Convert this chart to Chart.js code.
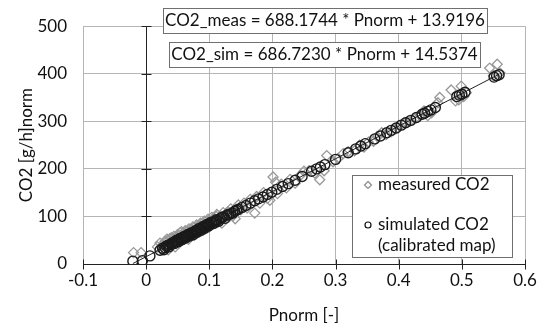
<!DOCTYPE html>
<html><head><meta charset="utf-8">
<script src="https://cdn.jsdelivr.net/npm/chart.js@4"></script>
<style>html,body{margin:0;padding:0;background:#fff}#wrap{width:544px;height:329px}</style>
</head><body><div id="wrap"><canvas id="c" width="544" height="329"></canvas></div>
<script>
const xTicks = [-0.1, 0, 0.1, 0.2, 0.3, 0.4, 0.5, 0.6];
const yTicks = [0, 100, 200, 300, 400, 500];
const eqMeas = "CO2_meas = 688.1744 * Pnorm + 13.9196";
const eqSim = "CO2_sim = 686.7230 * Pnorm + 14.5374";
const legendLabels = ["measured CO2", "simulated CO2", "(calibrated map)"];
const xTitle = "Pnorm [-]";
const yTitle = "CO2 [g/h]norm";

const simX = [-0.021,-0.006,0.006,0.022,0.026,0.028,0.030,0.032,0.034,0.036,0.037,0.040,0.041,0.043,0.045,0.046,0.048,0.049,0.051,0.052,0.054,0.055,0.057,0.058,0.060,0.061,0.063,0.064,0.066,0.067,0.069,0.070,0.072,0.073,0.075,0.076,0.078,0.079,0.081,0.082,0.084,0.085,0.087,0.088,0.090,0.091,0.093,0.094,0.096,0.097,0.099,0.100,0.103,0.104,0.107,0.108,0.111,0.112,0.115,0.117,0.120,0.122,0.125,0.128,0.131,0.134,0.137,0.140,0.143,0.146,0.152,0.158,0.165,0.172,0.178,0.185,0.192,0.199,0.207,0.216,0.225,0.236,0.247,0.262,0.270,0.276,0.283,0.300,0.320,0.332,0.340,0.347,0.362,0.371,0.381,0.388,0.396,0.404,0.411,0.419,0.428,0.437,0.441,0.446,0.451,0.458,0.492,0.496,0.500,0.505,0.551,0.555,0.559];
const simY = [6,7,17,29,33,30,34,38,39,36,40,42,44,45,43,47,50,48,47,51,54,52,51,55,58,57,55,58,62,61,59,63,66,64,62,67,70,69,67,71,75,73,71,75,79,77,75,79,83,81,80,84,88,86,85,89,93,91,90,95,98,99,96,103,104,106,107,111,113,115,119,123,128,133,137,141,146,151,157,163,169,176,184,195,200,204,209,220,234,242,248,253,263,269,276,281,286,292,297,302,308,315,317,321,324,329,352,355,357,361,393,396,398];

const measX = [-0.020,-0.008,0.018,0.022,0.026,0.030,0.032,0.033,0.035,0.036,0.038,0.039,0.040,0.042,0.043,0.044,0.046,0.047,0.048,0.050,0.051,0.052,0.054,0.055,0.056,0.058,0.059,0.060,0.062,0.063,0.064,0.066,0.067,0.068,0.070,0.071,0.072,0.074,0.075,0.076,0.078,0.079,0.080,0.082,0.083,0.084,0.086,0.087,0.088,0.090,0.091,0.092,0.094,0.095,0.096,0.098,0.099,0.100,0.102,0.103,0.104,0.106,0.107,0.108,0.111,0.112,0.114,0.116,0.118,0.120,0.122,0.124,0.126,0.128,0.130,0.132,0.134,0.138,0.141,0.146,0.150,0.155,0.160,0.165,0.172,0.175,0.180,0.186,0.192,0.196,0.201,0.205,0.208,0.214,0.222,0.228,0.236,0.244,0.250,0.258,0.267,0.275,0.282,0.286,0.296,0.304,0.312,0.320,0.330,0.338,0.345,0.352,0.360,0.366,0.373,0.380,0.388,0.395,0.402,0.410,0.418,0.426,0.434,0.440,0.446,0.452,0.462,0.465,0.483,0.490,0.495,0.499,0.503,0.507,0.544,0.550,0.556,0.560];
const measY = [24,24,36,44,40,48,46,52,30,44,54,48,55,40,52,58,36,44,56,62,58,46,66,48,68,52,60,64,70,58,54,68,52,74,60,66,72,78,66,60,74,64,82,68,72,80,86,74,70,82,72,90,74,80,86,94,84,78,90,82,98,84,88,96,100,104,88,94,100,86,108,100,95,106,110,100,116,102,95,124,114,128,118,136,107,142,128,150,138,134,183,172,148,168,160,178,170,186,195,196,191,177,196,228,215,222,232,236,238,250,246,256,258,268,276,272,278,284,290,296,300,306,312,322,312,318,339,350,366,343,345,374,352,360,412,396,420,402];

const lineX = [-0.021, 0.559];
const lineY = [1, 399];

const toPts = (xs, ys) => xs.map((x, i) => ({x: x, y: ys[i]}));
const FONT = "Lato";
const FS = 17;
const fmt = v => { const n = Math.round(v * 10) / 10; return String(n); };

const overlay = {
  id: 'overlay',
  beforeDatasetsDraw(chart) {
    const ctx = chart.ctx, xs = chart.scales.x, ys = chart.scales.y;
    const x0 = Math.round(xs.getPixelForValue(0)) + 0.5;
    const y0 = Math.round(ys.getPixelForValue(0)) + 0.5;
    ctx.save();
    ctx.strokeStyle = '#222'; ctx.lineWidth = 1;
    ctx.beginPath();
    ctx.moveTo(x0, ys.top); ctx.lineTo(x0, ys.bottom);
    ctx.moveTo(xs.left, y0); ctx.lineTo(xs.right, y0);
    yTicks.forEach(v => { const p = Math.round(ys.getPixelForValue(v)) + 0.5; ctx.moveTo(x0 - 5, p); ctx.lineTo(x0 + 5, p); });
    xTicks.forEach(v => { const p = Math.round(xs.getPixelForValue(v)) + 0.5; ctx.moveTo(p, y0 - 5); ctx.lineTo(p, y0 + 5); });
    ctx.stroke();
    ctx.restore();
  },
  afterDraw(chart) {
    const ctx = chart.ctx;
    ctx.save();
    ctx.font = FS + 'px ' + FONT;
    ctx.textBaseline = 'middle';
    const box = (l, t, r, b) => {
      ctx.fillStyle = '#fff'; ctx.fillRect(l, t, r - l, b - t);
      ctx.strokeStyle = '#707070'; ctx.lineWidth = 1; ctx.strokeRect(l + 0.5, t + 0.5, r - l, b - t);
    };
    box(163, 8, 487, 33);
    ctx.fillStyle = '#111'; ctx.textAlign = 'center';
    ctx.fillText(eqMeas, 325, 21);
    box(169, 42, 480, 67);
    ctx.fillStyle = '#111';
    ctx.fillText(eqSim, 324.5, 55);
    box(352, 175, 512, 257);
    ctx.textAlign = 'left'; ctx.fillStyle = '#111';
    ctx.fillText(legendLabels[0], 378, 185);
    ctx.fillText(legendLabels[1], 378, 225);
    ctx.fillText(legendLabels[2], 378, 246);
    ctx.strokeStyle = '#8a8a8a'; ctx.lineWidth = 1.2;
    ctx.beginPath(); ctx.moveTo(368, 181.5); ctx.lineTo(371.5, 185); ctx.lineTo(368, 188.5); ctx.lineTo(364.5, 185); ctx.closePath(); ctx.stroke();
    ctx.strokeStyle = '#111';
    ctx.beginPath(); ctx.arc(368, 225, 3, 0, Math.PI * 2); ctx.stroke();
    ctx.restore();
  }
};

new Chart(document.getElementById('c'), {
  type: 'scatter',
  data: {
    datasets: [
      { label: 'simulated CO2', data: toPts(simX, simY), pointStyle: 'circle', pointRadius: 5, pointBorderColor: '#1a1a1a', pointBackgroundColor: 'rgba(0,0,0,0)', pointBorderWidth: 1.4, order: 1 },
      { label: 'fit', type: 'line', data: toPts(lineX, lineY), borderColor: '#222', borderWidth: 1, pointRadius: 0, fill: false, order: 2 },
      { label: 'measured CO2', data: toPts(measX, measY), pointStyle: 'rectRot', pointRadius: 5, pointBorderColor: '#999', pointBackgroundColor: 'rgba(0,0,0,0)', pointBorderWidth: 1.3, order: 3 }
    ]
  },
  options: {
    responsive: false, animation: false, events: [],
    layout: { padding: { top: 13, right: 19, left: 0, bottom: 0 } },
    plugins: { legend: { display: false }, tooltip: { enabled: false } },
    scales: {
      x: {
        type: 'linear', min: -0.1, max: 0.6,
        afterBuildTicks: s => { s.ticks = xTicks.map(v => ({value: v})); },
        afterFit: s => { s.height = 65; },
        grid: { color: '#b5b5b5', lineWidth: 1, drawTicks: false },
        border: { color: '#222', width: 1 },
        ticks: { callback: v => fmt(v), color: '#111', font: { family: FONT, size: FS }, padding: 6, maxRotation: 0 },
        title: { display: true, text: xTitle, color: '#111', font: { family: FONT, size: FS }, padding: { top: 0, bottom: 3 } }
      },
      y: {
        type: 'linear', min: 0, max: 500,
        afterBuildTicks: s => { s.ticks = yTicks.map(v => ({value: v})); },
        afterFit: s => { s.width = 83; },
        grid: { color: '#b5b5b5', lineWidth: 1, drawTicks: false },
        border: { color: '#b5b5b5', width: 1 },
        ticks: { color: '#111', font: { family: FONT, size: FS }, padding: 16 },
        title: { display: true, text: yTitle, color: '#111', font: { family: FONT, size: FS }, padding: { top: 16, bottom: 0 } }
      }
    }
  },
  plugins: [overlay]
});
</script>
</body></html>
